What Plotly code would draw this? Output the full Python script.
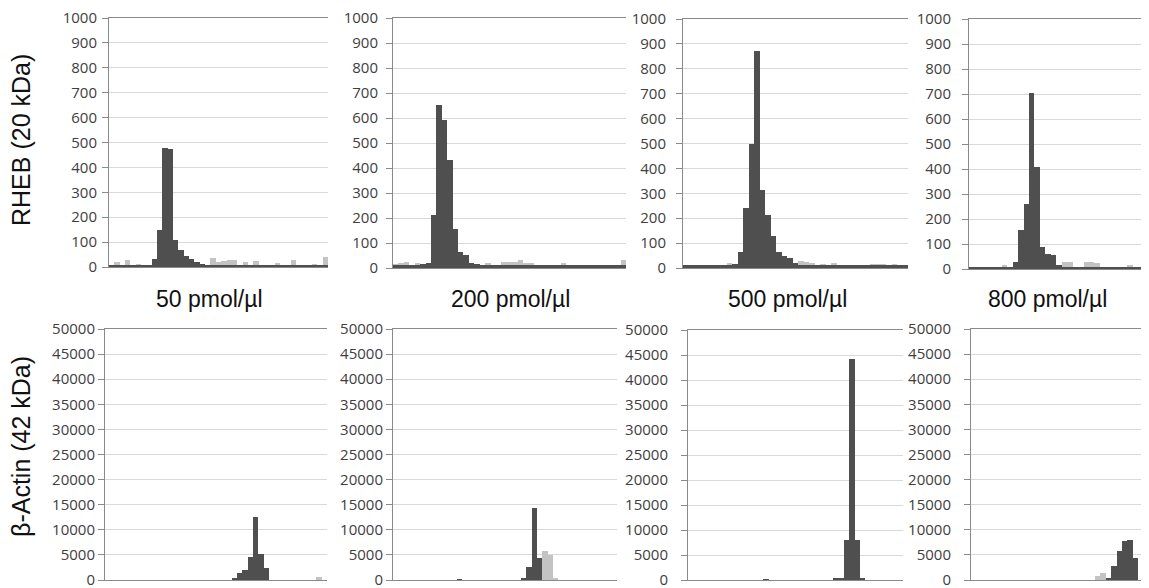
import plotly.graph_objects as go

W, H = 1149, 588
OFF = 8  # page body margin offset compensation (px)

# ---- data (bin values) ----
rheb_50_dark = [9, 9, 9, 9, 9, 9, 9, 9, 31, 149, 477, 473, 109, 69, 45, 31, 20, 11, 9, 9,
                9, 9, 9, 9, 9, 9, 9, 9, 9, 9, 9, 9, 9, 9, 9, 9, 9, 9, 9, 9, 9]
rheb_50_light = [0, 20, 0, 29, 0, 13, 0, 0, 0, 0, 0, 0, 0, 0, 0, 0, 0, 0, 0, 36,
                 22, 25, 28, 30, 0, 20, 0, 25, 0, 0, 0, 17, 0, 0, 29, 0, 0, 0, 13, 0, 42]

rheb_200_dark = [12, 12, 12, 12, 12, 18, 20, 212, 652, 592, 433, 156, 64, 52, 22, 16, 12, 12, 12, 12,
                 12, 12, 12, 12, 12, 12, 12, 12, 12, 12, 12, 12, 12, 12, 12, 12, 12, 12, 12, 12,
                 12, 12, 12]
rheb_200_light = [16, 20, 25, 0, 22, 0, 0, 0, 0, 0, 0, 0, 0, 0, 0, 0, 0, 20, 0, 0,
                  26, 24, 26, 34, 20, 20, 0, 0, 0, 0, 0, 20, 0, 0, 0, 0, 0, 0, 0, 0,
                  0, 0, 32]

rheb_500_dark = [12, 12, 12, 12, 12, 12, 12, 12, 12, 15, 65, 240, 497, 873, 312, 213, 130, 65, 48, 40,
                 22, 12, 12, 12, 12, 12, 12, 12, 12, 12, 12, 12, 12, 12, 12, 12, 12, 12, 12, 12, 12]
rheb_500_light = [0, 0, 0, 14, 14, 0, 0, 0, 22, 0, 0, 0, 0, 0, 0, 0, 0, 0, 0, 0,
                  0, 28, 24, 22, 0, 18, 0, 20, 0, 0, 0, 14, 0, 0, 18, 18, 16, 0, 16, 0, 12]

rheb_800_dark = [8, 8, 8, 8, 8, 8, 8, 8, 30, 155, 260, 705, 410, 90, 60, 55, 15, 8, 8, 8,
                 8, 8, 8, 8, 8, 8, 8, 8, 8, 8, 8, 8, 8]
rheb_800_light = [10, 0, 10, 0, 0, 0, 15, 0, 0, 0, 0, 0, 0, 0, 0, 0, 0, 28, 28, 0,
                  0, 28, 28, 24, 0, 0, 0, 0, 0, 17, 0, 0, 17]

actin_50_dark = [0, 0, 0, 0, 0, 0, 0, 0, 0, 0, 0, 0, 0, 0, 0, 0, 0, 0, 0, 0,
                 0, 0, 0, 0, 330, 1300, 2000, 4600, 12600, 5200, 2300, 0, 0, 0, 0, 0, 0, 0, 0, 0,
                 0, 0]
actin_50_light = [0, 0, 0, 0, 0, 0, 0, 0, 0, 0, 0, 0, 0, 0, 0, 0, 0, 0, 0, 0,
                  0, 0, 0, 0, 0, 0, 0, 0, 0, 0, 0, 0, 0, 0, 0, 0, 0, 0, 0, 0,
                  650, 0]

actin_200_dark = [0, 0, 0, 0, 0, 0, 0, 0, 0, 0, 0, 0, 150, 0, 0, 0, 0, 0, 0, 0,
                  0, 0, 0, 0, 300, 2500, 14300, 4450, 0, 0, 0, 0, 0, 0, 0, 0, 0, 0, 0, 0,
                  0, 0]
actin_200_light = [0, 0, 0, 0, 0, 0, 0, 0, 0, 0, 0, 0, 0, 0, 0, 0, 0, 0, 0, 0,
                   0, 0, 0, 0, 0, 0, 0, 0, 5800, 5000, 330, 0, 0, 0, 0, 0, 0, 0, 0, 0,
                   0, 0]

actin_500_dark = [0, 0, 0, 0, 0, 0, 0, 0, 0, 0, 0, 0, 0, 0, 200, 0, 0, 0, 0, 0,
                  0, 0, 0, 0, 0, 0, 0, 400, 500, 8100, 44300, 8100, 400, 0, 0, 0, 0, 0, 0, 0]
actin_500_light = [0, 0, 0, 0, 0, 0, 0, 0, 0, 0, 0, 0, 0, 0, 0, 0, 0, 0, 0, 0,
                   0, 0, 0, 0, 0, 0, 0, 0, 0, 0, 0, 0, 0, 0, 0, 0, 0, 0, 0, 0]

actin_800_dark = [0, 0, 0, 0, 0, 0, 0, 0, 0, 0, 0, 0, 0, 0, 0, 0, 0, 0, 0, 0,
                  0, 0, 0, 0, 0, 330, 2800, 5760, 7750, 7950, 4440, 0, 0]
actin_800_light = [0, 0, 0, 0, 0, 0, 0, 0, 0, 0, 0, 0, 0, 0, 0, 0, 0, 0, 0, 0,
                   0, 0, 0, 800, 1450, 0, 0, 0, 0, 0, 0, 0, 0]

concentrations = ["50 pmol/µl", "200 pmol/µl", "500 pmol/µl", "800 pmol/µl"]
row_titles = ["RHEB (20 kDa)", "β-Actin (42 kDa)"]
top_ticks = [0, 100, 200, 300, 400, 500, 600, 700, 800, 900, 1000]
bottom_ticks = [0, 5000, 10000, 15000, 20000, 25000, 30000, 35000, 40000, 45000, 50000]

DARK = "#4f4f4f"
LIGHT = "#c3c3c3"

# panel pixel boxes in the target picture: (left, right, top, bottom), label standoff
panels = [
    (rheb_50_dark, rheb_50_light, (109, 328, 18, 267), top_ticks, 2),
    (rheb_200_dark, rheb_200_light, (393, 626, 18, 268), top_ticks, 5),
    (rheb_500_dark, rheb_500_light, (683, 908, 19, 268), top_ticks, 7),
    (rheb_800_dark, rheb_800_light, (969, 1149, 19, 269), top_ticks, 8),
    (actin_50_dark, actin_50_light, (105, 327, 329, 580), bottom_ticks, 0),
    (actin_200_dark, actin_200_light, (393, 617, 329, 580), bottom_ticks, 0),
    (actin_500_dark, actin_500_light, (688, 903, 330, 580), bottom_ticks, 10),
    (actin_800_dark, actin_800_light, (971, 1149, 329, 580), bottom_ticks, 10),
]


def px(x):
    return (x - OFF) / W


def py(y):
    return 1 - (y - OFF) / H


fig = go.Figure()
layout = dict(
    template="none",
    width=W, height=H,
    margin=dict(l=0, r=0, t=0, b=0, pad=0, autoexpand=False),
    paper_bgcolor="white", plot_bgcolor="white",
    barmode="overlay", bargap=0,
    showlegend=False,
)

for i, (dark, light, box, ticks, standoff) in enumerate(panels):
    k = "" if i == 0 else str(i + 1)
    xa, ya = "x" + k, "y" + k
    left, right, top, bottom = box
    n = len(dark)
    xs = list(range(n))
    fig.add_trace(go.Bar(x=xs, y=light, marker=dict(color=LIGHT, line=dict(width=0)),
                         width=1, xaxis=xa, yaxis=ya, hoverinfo="skip"))
    fig.add_trace(go.Bar(x=xs, y=dark, marker=dict(color=DARK, line=dict(width=0)),
                         width=1, xaxis=xa, yaxis=ya, hoverinfo="skip"))
    layout["xaxis" + k] = dict(
        domain=[px(left), min(1.0, px(right))], anchor=ya, automargin=False,
        range=[-0.5, n - 0.5],
        showticklabels=False, ticks="", showgrid=False, zeroline=False,
        showline=True, mirror=True, linecolor="#8a8a8a", linewidth=1,
    )
    layout["yaxis" + k] = dict(
        domain=[py(bottom), py(top)], anchor=xa, automargin=False,
        range=[0, ticks[-1]], tickvals=ticks, ticktext=[str(t) for t in ticks],
        ticks="outside", ticklen=6, tickcolor="#8a8a8a",
        ticklabeloverflow="allow", ticklabelstandoff=standoff,
        showgrid=True, gridcolor="#d9d9d9", gridwidth=1, zeroline=False,
        showline=True, linecolor="#8a8a8a", linewidth=1,
        tickfont=dict(family="Open Sans", size=15, color="#404040"),
    )

annotations = []
label_x = [209, 510, 787, 1047]
for cx, txt in zip(label_x, concentrations):
    annotations.append(dict(x=px(cx), y=py(299), xref="paper", yref="paper",
                            text=txt, showarrow=False, xanchor="center", yanchor="middle",
                            font=dict(family="Liberation Sans", size=23, color="#111111")))
for cy, txt in zip([140, 447], row_titles):
    annotations.append(dict(x=px(21), y=py(cy), xref="paper", yref="paper",
                            text=txt, showarrow=False, textangle=-90,
                            xanchor="center", yanchor="middle",
                            font=dict(family="Liberation Sans", size=25, color="#111111")))
layout["annotations"] = annotations
fig.update_layout(**layout)
fig.write_html("out.html")
